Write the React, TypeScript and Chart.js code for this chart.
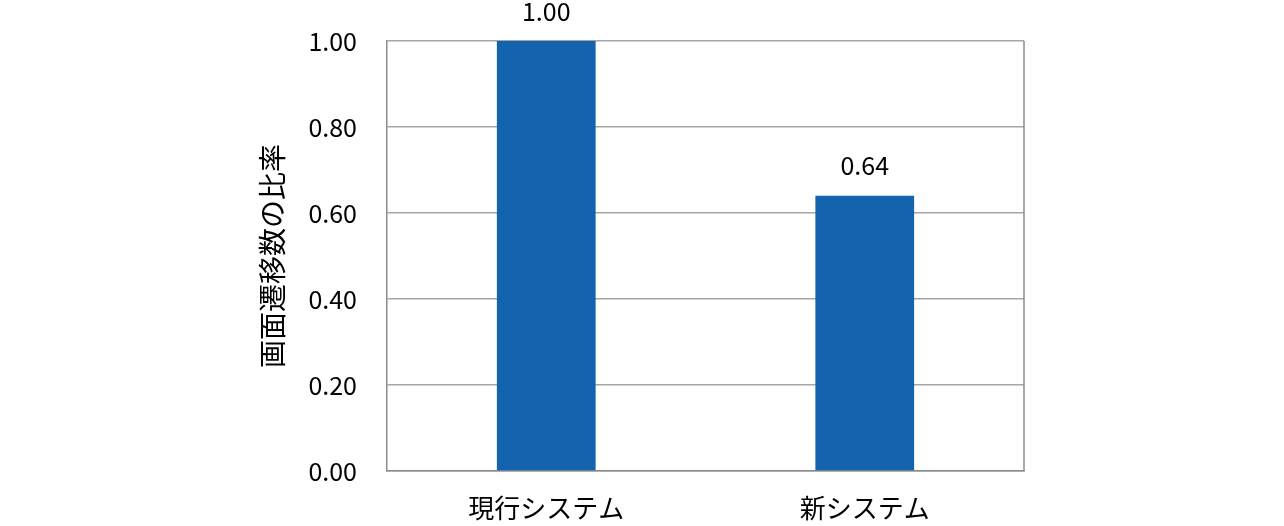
import React, { useEffect, useRef } from "react";
import { Chart, registerables } from "chart.js";

Chart.register(...registerables);

const categories = ["現行システム", "新システム"];
const ratios = [1.0, 0.64];
const yTitle = "画面遷移数の比率";

const FONT = "'Noto Sans CJK JP', 'Noto Sans', sans-serif";

const dataLabelPlugin = {
  id: "dataLabels",
  afterDatasetsDraw(chart: any) {
    const ctx = chart.ctx;
    const meta = chart.getDatasetMeta(0);
    ctx.save();
    ctx.font = `25px ${FONT}`;
    ctx.fillStyle = "#000";
    ctx.textAlign = "center";
    ctx.textBaseline = "middle";
    meta.data.forEach((bar: any, i: number) => {
      const v = chart.data.datasets[0].data[i] as number;
      ctx.fillText(v.toFixed(2), bar.x, bar.y - 30);
    });
    ctx.restore();
  },
};

export default function App() {
  const ref = useRef<HTMLCanvasElement>(null);
  useEffect(() => {
    document.body.style.margin = "0";
    const chart = new Chart(ref.current!, {
      type: "bar",
      data: {
        labels: categories,
        datasets: [
          {
            data: ratios,
            backgroundColor: "#1463AE",
            borderWidth: 0,
            categoryPercentage: 1,
            barPercentage: 0.31,
          },
        ],
      },
      options: {
        animation: false,
        responsive: false,
        layout: { padding: { left: 252, right: 260, top: 41, bottom: 0 } },
        plugins: { legend: { display: false }, tooltip: { enabled: false } },
        scales: {
          x: {
            grid: { display: false, drawTicks: false },
            border: { display: true, color: "#8c8c8c", width: 1.5 },
            ticks: { font: { family: FONT, size: 26 }, color: "#000", padding: 22 },
            afterFit: (s: any) => {
              s.height = 55;
              s.paddingLeft = 0;
              s.paddingRight = 0;
            },
          },
          y: {
            min: 0,
            max: 1,
            ticks: {
              stepSize: 0.2,
              font: { family: FONT, size: 25 },
              color: "#000",
              padding: 30,
              callback: (v: any) => Number(v).toFixed(2),
            },
            grid: { color: "#a6a6a6", lineWidth: 1.5, drawTicks: false },
            border: { display: true, color: "#8c8c8c", width: 1.5 },
            title: {
              display: true,
              text: yTitle,
              font: { family: FONT, size: 28 },
              color: "#000",
              padding: 4,
            },
            afterFit: (s: any) => {
              s.width = 135;
              s.paddingTop = 0;
              s.paddingBottom = 0;
            },
          },
        },
      },
      plugins: [
        dataLabelPlugin,
        {
          id: "rightBorder",
          afterDraw(c: any) {
            const { ctx, chartArea } = c;
            ctx.save();
            ctx.strokeStyle = "#8c8c8c";
            ctx.lineWidth = 1.5;
            ctx.beginPath();
            ctx.moveTo(chartArea.right, chartArea.top);
            ctx.lineTo(chartArea.right, chartArea.bottom);
            ctx.stroke();
            ctx.restore();
          },
        },
      ],
    });
    return () => chart.destroy();
  }, []);
  return <canvas ref={ref} width={1284} height={526} style={{ display: "block" }} />;
}
